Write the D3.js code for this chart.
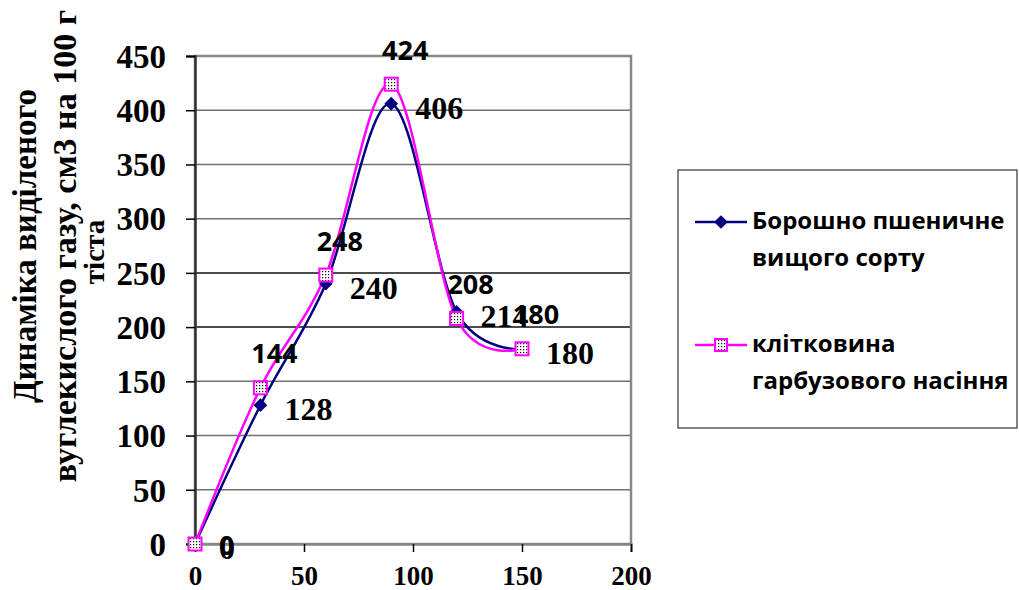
<!DOCTYPE html>
<html><head><meta charset="utf-8">
<script src="https://cdn.jsdelivr.net/npm/d3@7"></script>
<style>body{margin:0;background:#fff}svg{display:block}</style>
</head><body>
<script>
const xValues = [0, 30, 60, 90, 120, 150];
const seriesNames = ["Борошно пшеничне вищого сорту", "клітковина гарбузового насіння"];
const flourValues = [0, 128, 240, 406, 214, 180];
const fiberValues = [0, 144, 248, 424, 208, 180];
const xTicks = [0, 50, 100, 150, 200];
const yTicks = [0, 50, 100, 150, 200, 250, 300, 350, 400, 450];
const yTitleLines = ["Динаміка виділеного", "вуглекислого газу, см3 на 100 г", "тіста"];
const legendLines = [["Борошно пшеничне", "вищого сорту"], ["клітковина", "гарбузового насіння"]];

const W = 1019, H = 590;
const svg = d3.select("body").append("svg").attr("width", W).attr("height", H);
const defs = svg.append("defs");
const pat = defs.append("pattern").attr("id", "dots").attr("patternUnits", "userSpaceOnUse")
  .attr("width", 3).attr("height", 3);
pat.append("rect").attr("width", 3).attr("height", 3).attr("fill", "#fff");
pat.append("rect").attr("x", 1).attr("y", 1).attr("width", 1.2).attr("height", 1.2).attr("fill", "#000");

const x = d3.scaleLinear().domain([0, 200]).range([195, 631]);
const y = d3.scaleLinear().domain([0, 450]).range([544, 56]);
const serif = "Liberation Serif, Times New Roman, serif";

// gridlines
svg.append("g").selectAll("line").data(yTicks.filter(d => d > 0)).join("line")
  .attr("x1", x(0)).attr("x2", x(200)).attr("y1", d => y(d)).attr("y2", d => y(d))
  .attr("stroke", d => (d === 200 || d === 250) ? "#111" : "#707070").attr("stroke-width", 1.5);
// plot frame
svg.append("rect").attr("x", x(0)).attr("y", y(450)).attr("width", x(200) - x(0)).attr("height", y(0) - y(450))
  .attr("fill", "none").attr("stroke", "#888").attr("stroke-width", 2.5);

// axes
const yAxis = svg.append("g").attr("transform", `translate(${x(0)},0)`)
  .call(d3.axisLeft(y).tickValues(yTicks).tickSize(9).tickPadding(20));
yAxis.select(".domain").attr("stroke", "#333").attr("stroke-width", 2.5);
yAxis.selectAll(".tick line").attr("stroke", "#000").attr("stroke-width", 1.5);
yAxis.selectAll("text").attr("font-family", serif)
  .attr("font-weight", "bold").attr("font-size", 33).attr("fill", "#000").attr("dy", "0.34em");

const xAxis = svg.append("g").attr("transform", `translate(0,${y(0)})`)
  .call(d3.axisBottom(x).tickValues(xTicks).tickSize(8).tickPadding(14));
xAxis.select(".domain").attr("stroke", "#888").attr("stroke-width", 2.5);
xAxis.selectAll(".tick line").attr("stroke", "#000").attr("stroke-width", 1.5);
xAxis.selectAll("text").attr("font-family", serif)
  .attr("font-weight", "bold").attr("font-size", 27).attr("fill", "#000");

// y title
const yt = svg.append("g").attr("transform", "translate(0,246) rotate(-90)");
const titleSpec = [{b: 36, s: 33}, {b: 76, s: 34}, {b: 104, s: 29}];
yTitleLines.forEach((t, i) => {
  yt.append("text").attr("x", i === 2 ? -6 : 0).attr("y", titleSpec[i].b).attr("text-anchor", "middle")
    .attr("font-family", serif).attr("font-weight", "bold")
    .attr("font-size", titleSpec[i].s).attr("fill", "#000").text(t);
});

// lines
const line = d3.line().x((d, i) => x(xValues[i])).y(d => y(d)).curve(d3.curveCardinal.tension(0));
svg.append("path").datum(flourValues).attr("d", line).attr("fill", "none")
  .attr("stroke", "#000080").attr("stroke-width", 2.5);
svg.append("path").datum(fiberValues).attr("d", line).attr("fill", "none")
  .attr("stroke", "#FF00FF").attr("stroke-width", 2.5);

// markers
const diamond = d3.symbol().type(d3.symbolDiamond2).size(120);
svg.append("g").selectAll("path").data(flourValues).join("path")
  .attr("d", diamond).attr("transform", (d, i) => `translate(${x(xValues[i])},${y(d)})`)
  .attr("fill", "#000080");
svg.append("g").selectAll("rect").data(fiberValues).join("rect")
  .attr("x", (d, i) => x(xValues[i]) - 6.5).attr("y", d => y(d) - 6.5)
  .attr("width", 13).attr("height", 13)
  .attr("fill", "url(#dots)").attr("stroke", "#FF00FF").attr("stroke-width", 2);

// data labels
svg.append("g").selectAll("text").data(flourValues).join("text")
  .attr("x", (d, i) => x(xValues[i]) + 24).attr("y", d => y(d) + 4)
  .attr("dy", "0.35em")
  .attr("font-family", serif).attr("font-weight", "bold")
  .attr("font-size", 32).attr("fill", "#000").text(d => d);
svg.append("g").selectAll("text").data(fiberValues).join("text")
  .attr("x", (d, i) => d === 0 ? x(xValues[i]) + 24 : x(xValues[i]) + 14)
  .attr("y", d => d === 0 ? y(d) + 2 : y(d) - 34)
  .attr("dy", "0.35em").attr("text-anchor", d => d === 0 ? "start" : "middle")
  .attr("font-family", "Open Sans, sans-serif").attr("font-weight", "bold")
  .attr("font-size", 27).attr("fill", "#000").text(d => d);

// legend
svg.append("rect").attr("x", 678).attr("y", 170).attr("width", 339).attr("height", 258)
  .attr("fill", "#fff").attr("stroke", "#333").attr("stroke-width", 1.2);
const legY = [222, 345];
const legColors = ["#000080", "#FF00FF"];
legendLines.forEach((lines, i) => {
  const g = svg.append("g");
  g.append("line").attr("x1", 695).attr("x2", 747).attr("y1", legY[i]).attr("y2", legY[i])
    .attr("stroke", legColors[i]).attr("stroke-width", 2.5);
  if (i === 0) {
    g.append("path").attr("d", diamond).attr("transform", `translate(721,${legY[i]})`).attr("fill", "#000080");
  } else {
    g.append("rect").attr("x", 721 - 6).attr("y", legY[i] - 6).attr("width", 12).attr("height", 12)
      .attr("fill", "url(#dots)").attr("stroke", "#FF00FF").attr("stroke-width", 2);
  }
  lines.forEach((t, j) => {
    g.append("text").attr("x", 752).attr("y", legY[i] + 7 + j * 37)
      .attr("font-family", "Open Sans, sans-serif").attr("font-weight", "bold")
      .attr("font-size", 24).attr("fill", "#000").text(t);
  });
});
</script>
</body></html>
